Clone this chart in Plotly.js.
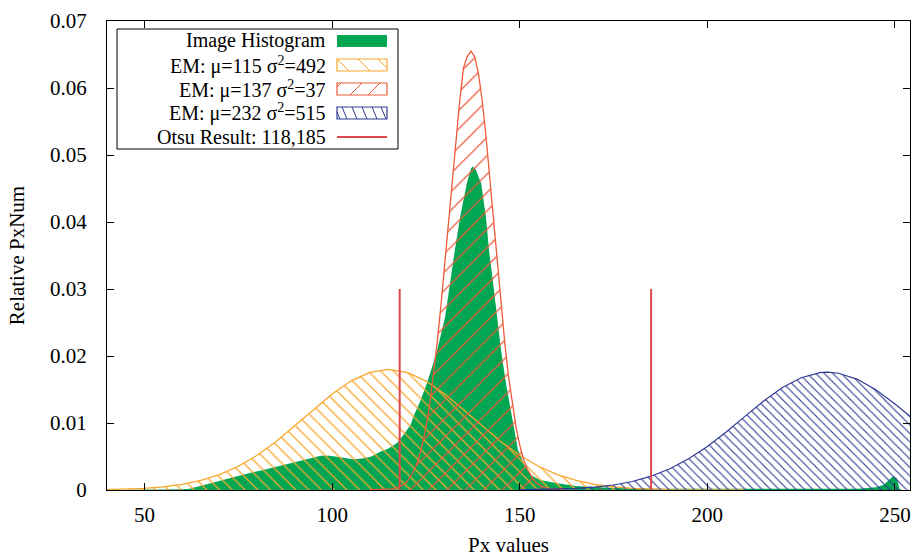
<!DOCTYPE html>
<html>
<head>
<meta charset="utf-8">
<script src="https://cdn.plot.ly/plotly-3.0.1.min.js"></script>
<style>
html,body{margin:0;padding:0;background:#fff;}
#chart{width:912px;height:557px;}
#chart svg text, #chart svg tspan { font-family: 'Liberation Serif', 'DejaVu Serif', serif !important; }
</style>
</head>
<body>
<div id="chart"></div>
<script>
// ---- Data ----
var histX = [40,55,60,62,64,66,68.3,71,73.6,77,81.6,86,90.6,94.9,97,99.4,102,104,105.6,108,110.5,112.8,115,117.3,119,121,121.6,123.5,125.3,127,128,130.1,131.4,132.7,134.1,135.9,137,137.5,138.3,139.7,141,141.8,142.9,143.9,145,146.3,147.9,149.5,151.4,153,155.4,158,160,165,170,175,185,200,220,240,245,247,247.8,248.5,249.6,250.5,250.8,251.2,252,254];
var histY = [0,0,0.0001,0.0002,0.0005,0.0008,0.0011,0.0016,0.0020,0.0024,0.0030,0.0036,0.0042,0.0049,0.0051,0.0051,0.0049,0.0048,0.0046,0.0047,0.0050,0.0057,0.0062,0.0070,0.0082,0.0098,0.0109,0.0133,0.0160,0.0190,0.0209,0.0258,0.0309,0.0358,0.0407,0.0458,0.0480,0.0483,0.0478,0.0458,0.0407,0.0358,0.0309,0.0258,0.0209,0.0160,0.0109,0.0060,0.0035,0.0022,0.0015,0.0012,0.0010,0.0006,0.0004,0.0003,0.0002,0.0002,0.0002,0.0002,0.0004,0.0008,0.0012,0.0015,0.0021,0.0017,0.0010,0.0002,0,0];

var em1X = [40,45,50,55,60,65,70,75,80,85,90,95,100,105,110,115,120,125,130,135,140,145,150,155,160,165,170,175,180,185,190,200,210];
var em1Y = [0.00006,0.00012,0.00025,0.00046,0.00083,0.00142,0.0023,0.00354,0.00518,0.00721,0.00954,0.01199,0.01432,0.01626,0.01755,0.0180,0.01755,0.01626,0.01432,0.01199,0.00954,0.00721,0.00518,0.00354,0.0023,0.00142,0.00083,0.00046,0.00025,0.00012,0.00006,0.00001,0];

var em2X = [110,114,115,116,117,118,119,120,121,122,123,124,125,126,127,128,129,130,131,132,133,134,135,136,137,138,139,140,141,142,143,144,145,146,147,148,149,150,151,152,153,154,155,156,157,158,159,160,162];
var em2Y = [0,0.00005,0.0001,0.00017,0.0003,0.0005,0.0008,0.0013,0.0021,0.0031,0.0046,0.0067,0.0094,0.0128,0.0170,0.0220,0.0276,0.0338,0.0403,0.0468,0.0528,0.0581,0.0630,0.0647,0.0655,0.0647,0.0621,0.0581,0.0528,0.0468,0.0403,0.0338,0.0276,0.0220,0.0170,0.0128,0.0094,0.0067,0.0046,0.0031,0.0021,0.0013,0.0008,0.0005,0.0003,0.00017,0.0001,0.00005,0];

var em3X = [150,160,165,170,175,180,185,190,195,200,205,210,215,220,225,230,232,235,240,245,250,254];
var em3Y = [0.00002,0.00012,0.00023,0.00042,0.00075,0.00127,0.00206,0.00317,0.00465,0.0065,0.00866,0.01099,0.01328,0.01529,0.01676,0.01751,0.01758,0.01743,0.01652,0.01492,0.01284,0.01099];

var otsuThresholds = [118, 185];
var otsuHeight = 0.03;

var xTicks = [50,100,150,200,250];
var legendLabels = ["Image Histogram", "EM: μ=115 σ<sup>2</sup>=492", "EM: μ=137 σ<sup>2</sup>=37", "EM: μ=232 σ<sup>2</sup>=515", "Otsu Result: 118,185"];

// ---- Styling ----
var FONT = 'Liberation Serif';
var FS = 21;
var KEYFS = 20;
var GREEN = '#00a651';
var ORANGE = '#f9a72b';
var REDOR = '#ef5a3a';
var BLUE = '#2e3b92';
var OTSU = '#e0474c';

var otsuX = [], otsuY = [];
otsuThresholds.forEach(function(t, i){
  if (i > 0) { otsuX.push(null); otsuY.push(null); }
  otsuX.push(t, t); otsuY.push(0, otsuHeight);
});

var traces = [
  {x: histX, y: histY, type: 'scatter', mode: 'lines', fill: 'tozeroy', fillcolor: GREEN,
   line: {width: 0, color: GREEN}, name: legendLabels[0], hoverinfo: 'skip'},
  {x: em1X, y: em1Y, type: 'scatter', mode: 'lines', fill: 'tozeroy', fillcolor: 'rgba(0,0,0,0)',
   fillpattern: {shape: '\\', size: 9, solidity: 0.14, fgcolor: ORANGE, bgcolor: 'rgba(0,0,0,0)', fillmode: 'replace'},
   line: {width: 1.3, color: ORANGE}, name: legendLabels[1]},
  {x: em2X, y: em2Y, type: 'scatter', mode: 'lines', fill: 'tozeroy', fillcolor: 'rgba(0,0,0,0)',
   fillpattern: {shape: '/', size: 13, solidity: 0.095, fgcolor: REDOR, bgcolor: 'rgba(0,0,0,0)', fillmode: 'replace'},
   line: {width: 1.3, color: REDOR}, name: legendLabels[2]},
  {x: em3X, y: em3Y, type: 'scatter', mode: 'lines', fill: 'tozeroy', fillcolor: 'rgba(0,0,0,0)',
   fillpattern: {shape: '\\', size: 6, solidity: 0.19, fgcolor: BLUE, bgcolor: 'rgba(0,0,0,0)', fillmode: 'replace'},
   line: {width: 1.2, color: BLUE}, name: legendLabels[3]},
  {x: otsuX, y: otsuY, type: 'scatter', mode: 'lines', line: {width: 2, color: OTSU}, name: legendLabels[4]}
];

// ---- Custom gnuplot-style key (text right, sample on the right) ----
var L = 107, R = 910, T = 21, B = 490;
function px(x){ return (x - L) / (R - L); }
function py(y){ return (B - y) / (B - T); }
function seg(x0,y0,x1,y1){ return 'M' + px(x0) + ',' + py(y0) + 'L' + px(x1) + ',' + py(y1); }

var keyRows = [41, 65, 89, 113, 137];
var sx0 = 337, sx1 = 387, sh = 6;
var shapes = [
  {type: 'rect', xref: 'paper', yref: 'paper', x0: px(117), x1: px(398), y0: py(29), y1: py(149),
   fillcolor: '#ffffff', line: {color: '#000000', width: 1}},
  {type: 'rect', xref: 'paper', yref: 'paper', x0: px(sx0), x1: px(sx1), y0: py(keyRows[0]-sh), y1: py(keyRows[0]+sh),
   fillcolor: GREEN, line: {width: 0}},
  {type: 'rect', xref: 'paper', yref: 'paper', x0: px(sx0), x1: px(sx1), y0: py(keyRows[1]-sh), y1: py(keyRows[1]+sh),
   fillcolor: 'rgba(0,0,0,0)', line: {color: ORANGE, width: 1.2}},
  {type: 'path', xref: 'paper', yref: 'paper', line: {color: ORANGE, width: 1},
   path: seg(337,59,349,71) + seg(358,59,370,71) + seg(378,59,387,68)},
  {type: 'rect', xref: 'paper', yref: 'paper', x0: px(sx0), x1: px(sx1), y0: py(keyRows[2]-sh), y1: py(keyRows[2]+sh),
   fillcolor: 'rgba(0,0,0,0)', line: {color: REDOR, width: 1.2}},
  {type: 'path', xref: 'paper', yref: 'paper', line: {color: REDOR, width: 1},
   path: seg(337,87,341,83) + seg(350,95,362,83) + seg(368,95,380,83)},
  {type: 'rect', xref: 'paper', yref: 'paper', x0: px(sx0), x1: px(sx1), y0: py(keyRows[3]-sh), y1: py(keyRows[3]+sh),
   fillcolor: 'rgba(0,0,0,0)', line: {color: BLUE, width: 1.2}},
  {type: 'path', xref: 'paper', yref: 'paper', line: {color: BLUE, width: 1},
   path: seg(337,112,340,119) + seg(342,107,347,119) + seg(352,107,357,119) + seg(362,107,367,119) + seg(372,107,377,119) + seg(381,107,386,119)},
  {type: 'line', xref: 'paper', yref: 'paper', x0: px(sx0), x1: px(sx1), y0: py(keyRows[4]), y1: py(keyRows[4]),
   line: {color: OTSU, width: 2}}
];

var annotations = legendLabels.map(function(t, i){
  return {text: t, xref: 'paper', yref: 'paper', x: px(327), y: py(keyRows[i]), xanchor: 'right', yanchor: 'middle',
          showarrow: false, align: 'right', borderpad: 0, font: {family: FONT, size: KEYFS, color: '#000'}};
});

var layout = {
  width: 912, height: 557,
  margin: {l: L, r: 912 - R, t: T, b: 557 - B, pad: 0},
  paper_bgcolor: '#ffffff', plot_bgcolor: '#ffffff',
  showlegend: false,
  font: {family: FONT, size: FS, color: '#000'},
  xaxis: {
    range: [40, 254], tickvals: xTicks, ticktext: xTicks.map(String),
    ticks: 'inside', ticklen: 7, tickwidth: 1, tickcolor: '#000', mirror: 'allticks',
    showline: true, linecolor: '#000', linewidth: 1, showgrid: false, zeroline: false,
    ticklabelstandoff: 6,
    tickfont: {family: FONT, size: FS, color: '#000'},
    title: {text: 'Px values', font: {family: FONT, size: FS, color: '#000'}, standoff: 13}
  },
  yaxis: {
    range: [0, 0.07], dtick: 0.01, tick0: 0,
    ticks: 'inside', ticklen: 7, tickwidth: 1, tickcolor: '#000', mirror: 'allticks',
    showline: true, linecolor: '#000', linewidth: 1, showgrid: false, zeroline: false,
    ticklabelstandoff: 15,
    tickfont: {family: FONT, size: FS, color: '#000'},
    title: {text: 'Relative PxNum', font: {family: FONT, size: FS, color: '#000'}, standoff: 19}
  },
  shapes: shapes,
  annotations: annotations
};

Plotly.newPlot('chart', traces, layout, {staticPlot: true, displayModeBar: false});
</script>
</body>
</html>
